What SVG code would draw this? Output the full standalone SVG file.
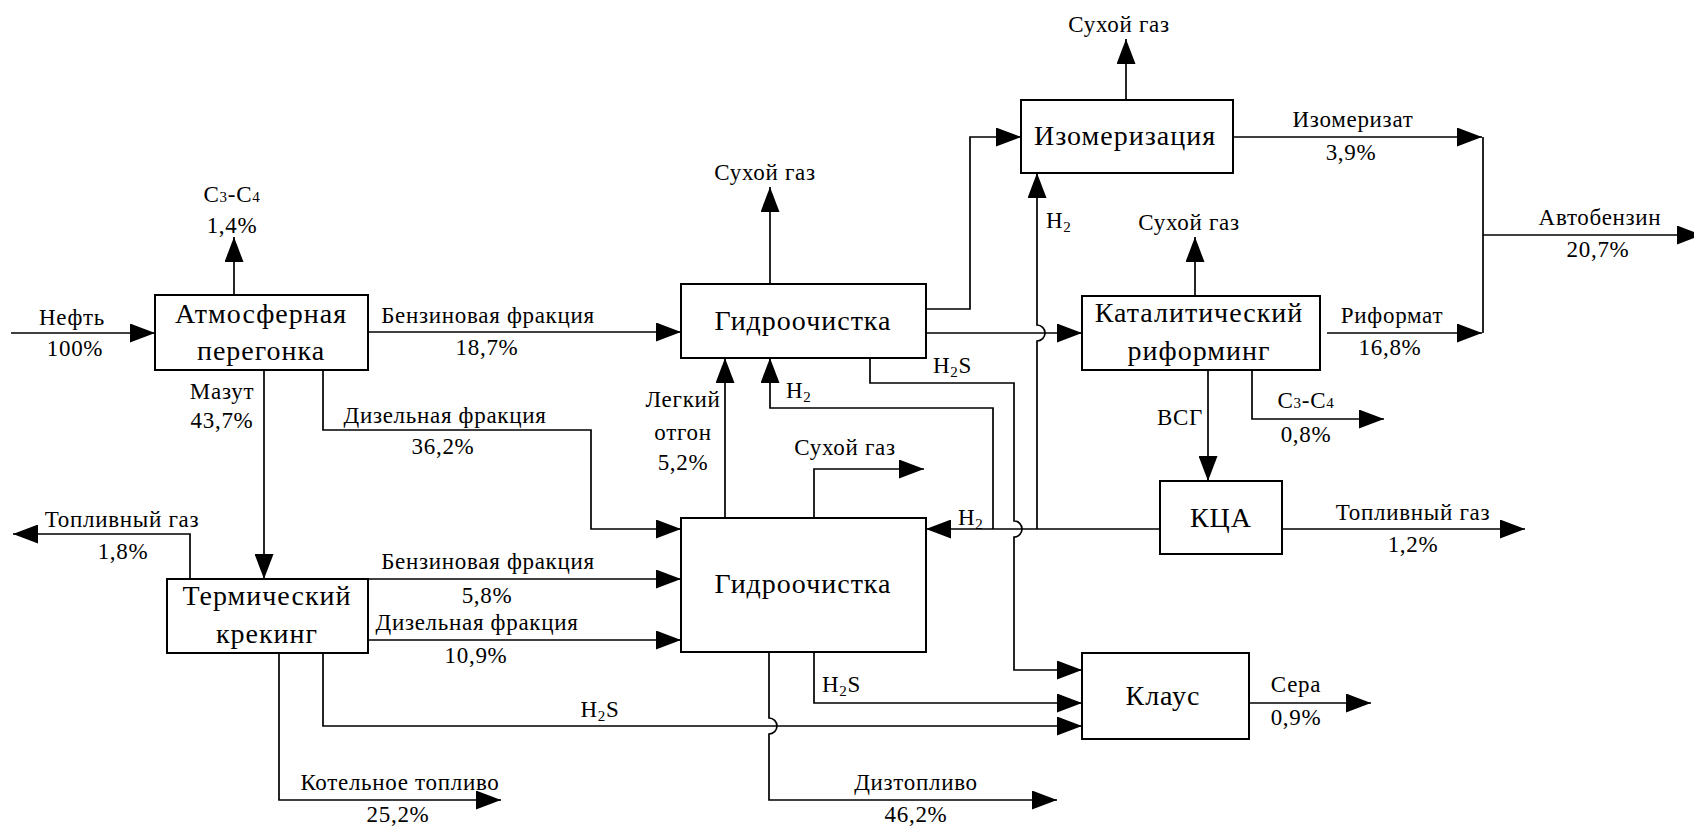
<svg xmlns="http://www.w3.org/2000/svg" width="1694" height="826" viewBox="0 0 1694 826">
<style>
.b{fill:#fff;stroke:#000;stroke-width:2}
.l{fill:none;stroke:#000;stroke-width:1.7}
.a{marker-end:url(#ah)}
text{font-family:'Liberation Serif','DejaVu Serif',serif;font-size:23px;text-anchor:middle;fill:#000;letter-spacing:0.7px}
text.n{font-size:28px;letter-spacing:1px}
text.s{text-anchor:start}
.sub{font-size:15px}
</style>
<defs>
<marker id="ah" viewBox="0 0 25 19" refX="25" refY="9.5" markerWidth="25" markerHeight="19" markerUnits="userSpaceOnUse" orient="auto">
<path d="M0,0 L25,9.5 L0,19 z" fill="#000"/>
</marker>
</defs>
<rect width="1694" height="826" fill="#fff"/>
<g id="connectors">
<path class="l a" d="M11,333 H155"/>
<path class="l a" d="M234,295 V237"/>
<path class="l a" d="M368,332 H681"/>
<path class="l a" d="M264,370 V579"/>
<path class="l a" d="M323,370 V430 H591 V529 H681"/>
<path class="l a" d="M190,579 V534 H13"/>
<path class="l a" d="M368,579 H681"/>
<path class="l a" d="M368,640 H681"/>
<path class="l a" d="M279,653 V800 H501"/>
<path class="l a" d="M323,653 V726 H1082"/>
<path class="l a" d="M725,518 V358"/>
<path class="l a" d="M770,284 V187"/>
<path class="l a" d="M926,309 H970 V137 H1021"/>
<path class="l a" d="M926,333 H1082"/>
<path class="l a" d="M870,358 V383 H1014 V521 a8,8 0 0 1 0,16 V670 H1082"/>
<path class="l a" d="M1160,529 H926"/>
<path class="l a" d="M993,529 V408 H770 V358"/>
<path class="l a" d="M1037,529 V341 a8,8 0 0 0 0,-16 V173"/>
<path class="l a" d="M814,518 V469 H924"/>
<path class="l a" d="M814,652 V703 H1082"/>
<path class="l a" d="M769,652 V718 a8,8 0 0 1 0,16 V800 H1057"/>
<path class="l a" d="M1126,100 V39"/>
<path class="l a" d="M1233,137 H1482"/>
<path class="l" d="M1483,137 V333"/>
<path class="l a" d="M1483,235 H1702"/>
<path class="l a" d="M1327,333 H1482"/>
<path class="l a" d="M1195,296 V237"/>
<path class="l a" d="M1208,370 V481"/>
<path class="l a" d="M1252,370 V419 H1384"/>
<path class="l a" d="M1282,529 H1525"/>
<path class="l a" d="M1249,703 H1371"/>
</g>
<g id="labels">
<text x="72" y="325">Нефть</text>
<text x="75" y="356">100%</text>
<text x="232" y="202">С<tspan class="sub">3</tspan>-С<tspan class="sub">4</tspan></text>
<text x="232" y="233">1,4%</text>
<text x="488" y="323">Бензиновая фракция</text>
<text x="487" y="355">18,7%</text>
<text x="222" y="399">Мазут</text>
<text x="222" y="428">43,7%</text>
<text x="445" y="423">Дизельная фракция</text>
<text x="443" y="454">36,2%</text>
<text x="122" y="527">Топливный газ</text>
<text x="123" y="559">1,8%</text>
<text x="488" y="569">Бензиновая фракция</text>
<text x="487" y="603">5,8%</text>
<text x="477" y="630">Дизельная фракция</text>
<text x="476" y="663">10,9%</text>
<text x="400" y="790">Котельное топливо</text>
<text x="398" y="822">25,2%</text>
<text x="600" y="717">H<tspan class="sub" dy="4">2</tspan><tspan dy="-4">S</tspan></text>
<text x="683" y="407">Легкий</text>
<text x="683" y="440">отгон</text>
<text x="683" y="470">5,2%</text>
<text x="765" y="180">Сухой газ</text>
<text class="s" x="786" y="398">H<tspan class="sub" dy="4">2</tspan></text>
<text class="s" x="933" y="373">H<tspan class="sub" dy="4">2</tspan><tspan dy="-4">S</tspan></text>
<text x="845" y="455">Сухой газ</text>
<text class="s" x="958" y="525">H<tspan class="sub" dy="4">2</tspan></text>
<text class="s" x="822" y="692">H<tspan class="sub" dy="4">2</tspan><tspan dy="-4">S</tspan></text>
<text x="916" y="790">Дизтопливо</text>
<text x="916" y="822">46,2%</text>
<text x="1119" y="32">Сухой газ</text>
<text x="1353" y="127">Изомеризат</text>
<text x="1351" y="160">3,9%</text>
<text x="1600" y="225">Автобензин</text>
<text x="1598" y="257">20,7%</text>
<text class="s" x="1046" y="228">H<tspan class="sub" dy="4">2</tspan></text>
<text x="1189" y="230">Сухой газ</text>
<text x="1392" y="323">Риформат</text>
<text x="1390" y="355">16,8%</text>
<text x="1180" y="425">ВСГ</text>
<text x="1306" y="408">С<tspan class="sub">3</tspan>-С<tspan class="sub">4</tspan></text>
<text x="1306" y="442">0,8%</text>
<text x="1413" y="520">Топливный газ</text>
<text x="1413" y="552">1,2%</text>
<text x="1296" y="692">Сера</text>
<text x="1296" y="725">0,9%</text>
</g>
<g id="atm"><rect class="b" x="155" y="295" width="213" height="75"/><text class="n" x="261" y="323">Атмосферная</text><text class="n" x="261" y="360">перегонка</text></g>
<g id="term"><rect class="b" x="167" y="579" width="201" height="74"/><text class="n" x="267" y="605">Термический</text><text class="n" x="267" y="643">крекинг</text></g>
<g id="hydro1"><rect class="b" x="681" y="284" width="245" height="74"/><text class="n" x="803" y="330">Гидроочистка</text></g>
<g id="hydro2"><rect class="b" x="681" y="518" width="245" height="134"/><text class="n" x="803" y="593">Гидроочистка</text></g>
<g id="isom"><rect class="b" x="1021" y="100" width="212" height="73"/><text class="n" x="1125" y="145">Изомеризация</text></g>
<g id="cat"><rect class="b" x="1082" y="296" width="238" height="74"/><text class="n" x="1199" y="322">Каталитический</text><text class="n" x="1199" y="360">риформинг</text></g>
<g id="kca"><rect class="b" x="1160" y="481" width="122" height="73"/><text class="n" x="1221" y="527">КЦА</text></g>
<g id="claus"><rect class="b" x="1082" y="653" width="167" height="86"/><text class="n" x="1163" y="705">Клаус</text></g>
</svg>
